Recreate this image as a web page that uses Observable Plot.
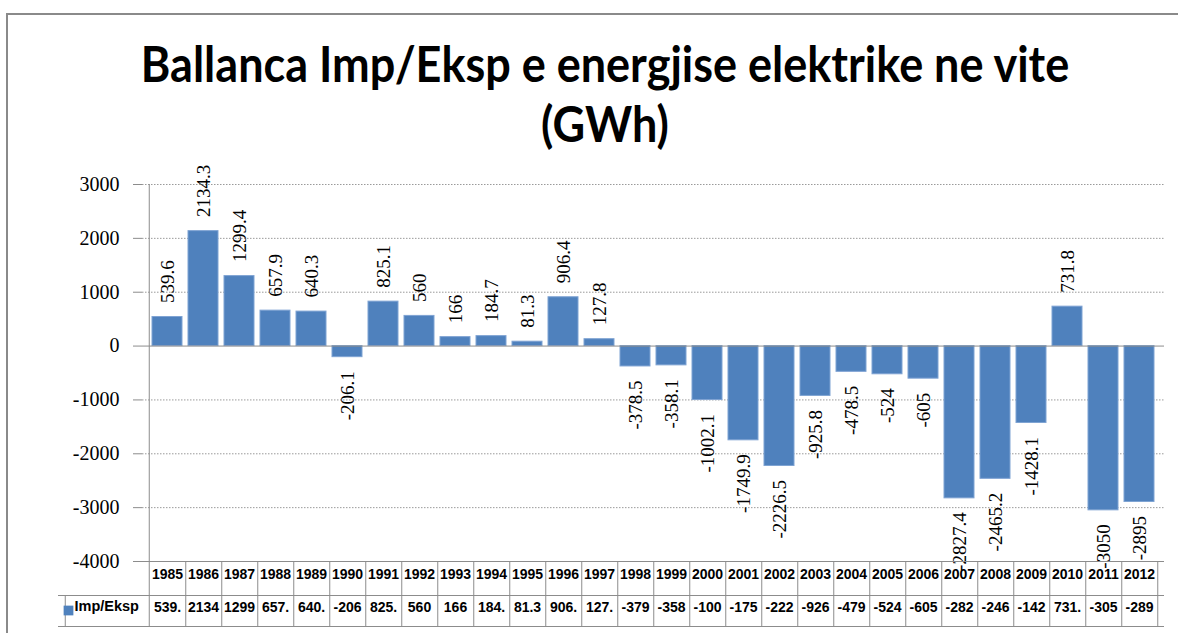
<!DOCTYPE html>
<html>
<head>
<meta charset="utf-8">
<script src="https://cdn.jsdelivr.net/npm/d3@7"></script>
<script src="https://cdn.jsdelivr.net/npm/@observablehq/plot@0.6"></script>
<style>
  html, body { margin: 0; padding: 0; background: #fff; overflow: hidden; }
  #wrap { position: relative; width: 1178px; height: 633px; overflow: hidden; }
  #border { position: absolute; left: 6px; top: 13px; width: 1200px; height: 660px;
            border-top: 2px solid #8a8a8a; border-left: 2px solid #8a8a8a; box-sizing: border-box; }
  #title { position: absolute; left: 32px; width: 1146px; top: 34px; text-align: center;
           font-family: Lato, "Open Sans", sans-serif; font-weight: 700; font-size: 45px;
           line-height: 54px; color: #000; transform: scaleY(1.1); transform-origin: 50% 0; }
  #chart { position: absolute; left: 0; top: 0; }
</style>
</head>
<body>
<div id="wrap">
  <div id="border"></div>
  <div id="chart"></div>
  <div id="title">Ballanca Imp/Eksp e energjise elektrike ne vite<br>(GWh)</div>
</div>
<script>
const years = [1985, 1986, 1987, 1988, 1989, 1990, 1991, 1992, 1993, 1994, 1995, 1996, 1997, 1998,
               1999, 2000, 2001, 2002, 2003, 2004, 2005, 2006, 2007, 2008, 2009, 2010, 2011, 2012];
const values = [539.6, 2134.3, 1299.4, 657.9, 640.3, -206.1, 825.1, 560, 166, 184.7, 81.3, 906.4, 127.8, -378.5,
                -358.1, -1002.1, -1749.9, -2226.5, -925.8, -478.5, -524, -605, -2827.4, -2465.2, -1428.1, 731.8, -3050, -2895];
const tableLabels = ["539.", "2134", "1299", "657.", "640.", "-206", "825.", "560", "166", "184.", "81.3", "906.", "127.", "-379",
                     "-358", "-100", "-175", "-222", "-926", "-479", "-524", "-605", "-282", "-246", "-142", "731.", "-305", "-289"];
const yTicks = [3000, 2000, 1000, 0, -1000, -2000, -3000, -4000];
const gridValues = [3000, 2000, 1000, -1000, -2000, -3000];
const seriesName = "Imp/Eksp";

const data = years.map((year, i) => ({year, value: values[i], cell: tableLabels[i]}));

const W = 1178, H = 633, mL = 142, mR = 14, mT = 184, mB = 72;
const frameW = W - mL - mR, frameH = H - mT - mB;
const step = frameW / years.length;
const gray = "#8c8c8c";
const barColor = "#4F81BD";
const serif = "'Liberation Serif', 'Times New Roman', serif";
const tableFont = "'Liberation Sans', Arial, sans-serif";

const chart = Plot.plot({
  width: W, height: H,
  marginLeft: mL, marginRight: mR, marginTop: mT, marginBottom: mB,
  style: {background: "transparent", fontFamily: serif},
  x: {type: "band", domain: years, paddingInner: 0.18, paddingOuter: 0.09, axis: null},
  y: {domain: [-4000, 3000], axis: null},
  marks: [
    Plot.ruleY(gridValues, {stroke: "#9a9a9a", strokeDasharray: "1.5,1.5"}),
    Plot.barY(data, {x: "year", y: "value", fill: barColor, stroke: "#7fa3d3", strokeWidth: 1}),
    Plot.ruleY([0], {stroke: gray}),
    // left axis line extended through table
    Plot.ruleX([years[0]], {x: d => d, dx: -step / 2, stroke: gray, insetBottom: -65}),
    // y ticks
    Plot.ruleY(yTicks, {insetLeft: -9, insetRight: frameW, stroke: gray}),
    Plot.text(yTicks, {y: d => d, text: d => String(d), frameAnchor: "left", dx: -23, textAnchor: "end",
                       fontSize: 20, fontFamily: serif, fill: "#000"}),
    // data labels
    Plot.text(data, {filter: d => d.value >= 0, x: "year", y: "value", text: d => String(d.value),
                     rotate: -90, textAnchor: "start", dy: -14, fontSize: 19, fontFamily: serif, fill: "#000"}),
    Plot.text(data, {filter: d => d.value < 0, x: "year", y: "value", text: d => String(d.value),
                     rotate: -90, textAnchor: "end", dy: 14, fontSize: 19, fontFamily: serif, fill: "#000"}),
    // data table lines
    Plot.ruleY([-4000], {stroke: gray}),
    Plot.ruleY([-4000], {dy: 34, insetLeft: -84, stroke: gray}),
    Plot.ruleY([-4000], {dy: 65, insetLeft: -84, stroke: gray}),
    Plot.ruleX(years, {x: d => d, dx: step / 2, insetTop: frameH, insetBottom: -65, stroke: gray}),
    Plot.ruleX([years[0]], {x: d => d, dx: -step / 2 - 84, insetTop: frameH + 34, insetBottom: -65, stroke: gray}),
    // table text
    Plot.text(data, {x: "year", text: d => String(d.year), frameAnchor: "bottom", dy: 17,
                     fontSize: 14, fontWeight: "bold", fontFamily: tableFont, fill: "#000"}),
    Plot.text(data, {x: "year", text: "cell", frameAnchor: "bottom", dy: 50,
                     fontSize: 14, fontWeight: "bold", fontFamily: tableFont, fill: "#000"}),
    // legend key in table
    Plot.dot([seriesName], {frameAnchor: "bottom-left", dx: -74, dy: 49, symbol: "square", r: 5.5, fill: barColor}),
    Plot.text([seriesName], {text: d => d, frameAnchor: "bottom-left", dx: -68, dy: 49, textAnchor: "start",
                             fontSize: 14.5, fontWeight: "bold", fontFamily: tableFont, fill: "#000"})
  ]
});
document.getElementById("chart").appendChild(chart);
</script>
</body>
</html>
